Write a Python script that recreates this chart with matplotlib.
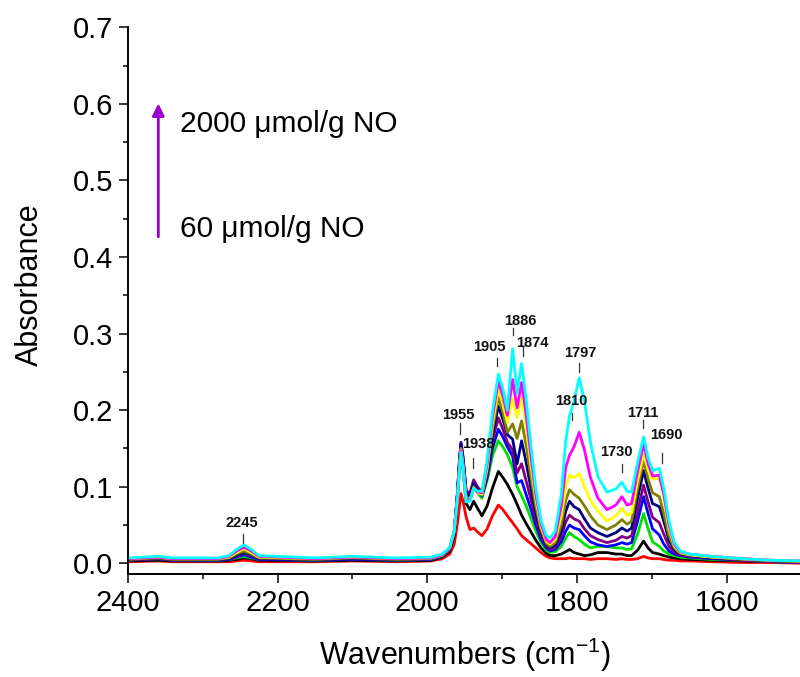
import matplotlib
matplotlib.use("Agg")
import matplotlib.pyplot as plt
from matplotlib.ticker import MultipleLocator

plt.rcParams['font.family'] = ['Liberation Sans', 'DejaVu Sans']
plt.rcParams['mathtext.fontset'] = 'custom'
plt.rcParams['mathtext.rm'] = 'Liberation Sans'
plt.rcParams['mathtext.it'] = 'Liberation Sans:italic'

# Wavenumber grid (cm-1), high to low
wavenumber = [
    2400, 2360, 2340, 2280, 2265, 2255, 2245, 2235, 2225, 2150, 2100, 2040,
    1995, 1980, 1970, 1964, 1960, 1957, 1955, 1952, 1948, 1943, 1938, 1933,
    1927, 1920, 1913, 1905, 1899, 1893, 1886, 1880, 1874, 1868, 1862,
    1855, 1848, 1841, 1836, 1829, 1821, 1815, 1810, 1804, 1797, 1790,
    1782, 1772, 1760, 1748, 1740, 1733, 1727, 1719, 1711, 1705, 1699,
    1690, 1684, 1677, 1670, 1662, 1650, 1620, 1580, 1540, 1500,
]

# Absorbance spectra, lowest NO dose (60 umol/g) to highest (2000 umol/g)
dose_60 = [
    0.002, 0.003, 0.002, 0.002, 0.002, 0.003, 0.004, 0.003, 0.002, 0.002, 0.003, 0.002,
    0.003, 0.006, 0.012, 0.025, 0.050, 0.075, 0.091, 0.080, 0.060, 0.044, 0.046, 0.041,
    0.036, 0.045, 0.062, 0.076, 0.070, 0.062, 0.053, 0.045, 0.036, 0.031, 0.026,
    0.020, 0.014, 0.009, 0.007, 0.006, 0.006, 0.006, 0.007, 0.006, 0.006, 0.006,
    0.005, 0.006, 0.006, 0.005, 0.006, 0.005, 0.005, 0.006, 0.009, 0.007, 0.006,
    0.006, 0.005, 0.004, 0.004, 0.003, 0.003, 0.002, 0.001, 0.001, 0.000,
]
dose_2 = [
    0.003, 0.004, 0.003, 0.003, 0.004, 0.005, 0.007, 0.006, 0.004, 0.003, 0.004, 0.003,
    0.004, 0.008, 0.016, 0.036, 0.080, 0.125, 0.150, 0.120, 0.078, 0.070, 0.081, 0.072,
    0.062, 0.075, 0.098, 0.120, 0.112, 0.103, 0.090, 0.077, 0.063, 0.052, 0.042,
    0.030, 0.020, 0.013, 0.010, 0.010, 0.012, 0.015, 0.018, 0.014, 0.012, 0.010,
    0.011, 0.014, 0.014, 0.012, 0.012, 0.010, 0.010, 0.017, 0.029, 0.020, 0.014,
    0.012, 0.010, 0.008, 0.007, 0.006, 0.005, 0.004, 0.003, 0.002, 0.001,
]
dose_3 = [
    0.004, 0.006, 0.004, 0.004, 0.005, 0.007, 0.009, 0.007, 0.005, 0.004, 0.005, 0.004,
    0.005, 0.009, 0.018, 0.040, 0.085, 0.130, 0.156, 0.135, 0.090, 0.088, 0.101, 0.092,
    0.085, 0.108, 0.140, 0.160, 0.152, 0.142, 0.125, 0.100, 0.088, 0.075, 0.060,
    0.042, 0.027, 0.017, 0.014, 0.015, 0.022, 0.033, 0.040, 0.035, 0.031, 0.025,
    0.020, 0.022, 0.022, 0.020, 0.020, 0.018, 0.019, 0.038, 0.065, 0.045, 0.028,
    0.022, 0.016, 0.012, 0.010, 0.008, 0.007, 0.005, 0.004, 0.002, 0.001,
]
dose_4 = [
    0.004, 0.006, 0.004, 0.004, 0.005, 0.008, 0.011, 0.008, 0.005, 0.004, 0.005, 0.004,
    0.005, 0.009, 0.018, 0.040, 0.088, 0.135, 0.158, 0.138, 0.092, 0.089, 0.104, 0.095,
    0.088, 0.112, 0.150, 0.175, 0.165, 0.152, 0.140, 0.105, 0.108, 0.090, 0.072,
    0.050, 0.031, 0.020, 0.016, 0.018, 0.028, 0.042, 0.050, 0.046, 0.044, 0.036,
    0.028, 0.024, 0.022, 0.024, 0.027, 0.025, 0.027, 0.055, 0.087, 0.065, 0.045,
    0.037, 0.025, 0.016, 0.012, 0.010, 0.008, 0.006, 0.004, 0.002, 0.001,
]
dose_5 = [
    0.004, 0.006, 0.004, 0.005, 0.006, 0.009, 0.013, 0.010, 0.006, 0.005, 0.006, 0.005,
    0.006, 0.010, 0.019, 0.042, 0.088, 0.135, 0.157, 0.135, 0.094, 0.092, 0.109, 0.100,
    0.093, 0.118, 0.160, 0.190, 0.175, 0.158, 0.148, 0.118, 0.130, 0.108, 0.085,
    0.058, 0.036, 0.022, 0.018, 0.021, 0.035, 0.054, 0.063, 0.058, 0.055, 0.045,
    0.036, 0.031, 0.027, 0.030, 0.035, 0.033, 0.036, 0.068, 0.102, 0.080, 0.060,
    0.053, 0.038, 0.022, 0.015, 0.011, 0.009, 0.007, 0.004, 0.002, 0.001,
]
dose_6 = [
    0.005, 0.007, 0.005, 0.005, 0.006, 0.010, 0.014, 0.011, 0.006, 0.005, 0.006, 0.005,
    0.006, 0.010, 0.019, 0.042, 0.088, 0.132, 0.155, 0.132, 0.090, 0.088, 0.104, 0.096,
    0.090, 0.120, 0.168, 0.205, 0.188, 0.168, 0.162, 0.130, 0.160, 0.132, 0.100,
    0.066, 0.040, 0.024, 0.020, 0.024, 0.042, 0.068, 0.081, 0.074, 0.070, 0.058,
    0.046, 0.040, 0.035, 0.040, 0.046, 0.042, 0.046, 0.085, 0.121, 0.098, 0.078,
    0.074, 0.055, 0.030, 0.018, 0.012, 0.010, 0.007, 0.005, 0.003, 0.002,
]
dose_7 = [
    0.005, 0.007, 0.005, 0.005, 0.007, 0.012, 0.016, 0.012, 0.007, 0.005, 0.007, 0.005,
    0.006, 0.010, 0.019, 0.042, 0.085, 0.128, 0.150, 0.128, 0.085, 0.084, 0.100, 0.093,
    0.090, 0.122, 0.175, 0.217, 0.197, 0.171, 0.182, 0.163, 0.186, 0.155, 0.115,
    0.074, 0.044, 0.026, 0.022, 0.027, 0.050, 0.082, 0.096, 0.090, 0.085, 0.075,
    0.062, 0.050, 0.044, 0.050, 0.057, 0.051, 0.055, 0.098, 0.134, 0.110, 0.092,
    0.087, 0.065, 0.036, 0.020, 0.013, 0.011, 0.008, 0.005, 0.003, 0.002,
]
dose_8 = [
    0.006, 0.008, 0.006, 0.006, 0.008, 0.014, 0.019, 0.014, 0.008, 0.006, 0.008, 0.006,
    0.007, 0.011, 0.020, 0.042, 0.082, 0.125, 0.148, 0.125, 0.083, 0.082, 0.098, 0.092,
    0.090, 0.125, 0.182, 0.228, 0.208, 0.184, 0.215, 0.190, 0.217, 0.180, 0.132,
    0.084, 0.048, 0.029, 0.025, 0.031, 0.062, 0.100, 0.115, 0.112, 0.117, 0.100,
    0.082, 0.068, 0.055, 0.062, 0.072, 0.062, 0.066, 0.108, 0.143, 0.122, 0.110,
    0.111, 0.085, 0.045, 0.023, 0.014, 0.011, 0.008, 0.006, 0.004, 0.003,
]
dose_9 = [
    0.006, 0.008, 0.006, 0.006, 0.009, 0.016, 0.021, 0.016, 0.009, 0.006, 0.008, 0.006,
    0.007, 0.011, 0.020, 0.042, 0.082, 0.124, 0.147, 0.124, 0.082, 0.082, 0.098, 0.093,
    0.092, 0.130, 0.190, 0.238, 0.218, 0.193, 0.240, 0.203, 0.236, 0.195, 0.143,
    0.090, 0.052, 0.031, 0.027, 0.035, 0.075, 0.125, 0.141, 0.152, 0.171, 0.148,
    0.112, 0.085, 0.070, 0.076, 0.087, 0.076, 0.078, 0.120, 0.156, 0.130, 0.114,
    0.115, 0.090, 0.050, 0.025, 0.015, 0.012, 0.009, 0.006, 0.004, 0.003,
]
dose_2000 = [
    0.007, 0.009, 0.007, 0.007, 0.010, 0.018, 0.024, 0.018, 0.010, 0.007, 0.009, 0.007,
    0.008, 0.012, 0.021, 0.042, 0.080, 0.122, 0.145, 0.122, 0.080, 0.081, 0.098, 0.094,
    0.094, 0.135, 0.198, 0.247, 0.228, 0.200, 0.280, 0.222, 0.261, 0.215, 0.158,
    0.098, 0.056, 0.036, 0.033, 0.042, 0.090, 0.160, 0.192, 0.212, 0.242, 0.212,
    0.158, 0.113, 0.093, 0.097, 0.106, 0.094, 0.093, 0.132, 0.165, 0.138, 0.121,
    0.124, 0.098, 0.055, 0.027, 0.016, 0.012, 0.009, 0.006, 0.004, 0.003,
]

spectra = [dose_60, dose_2, dose_3, dose_4, dose_5,
           dose_6, dose_7, dose_8, dose_9, dose_2000]
line_colors = ['#FF0000', '#000000', '#00E000', '#0000FF', '#800080',
               '#000080', '#808000', '#FFFF00', '#FF00FF', '#00FFFF']

# Band assignments: label text, marker x, marker y-range, text x, text baseline y
peak_text = ['2245', '1955', '1938', '1905', '1886', '1874',
             '1810', '1797', '1730', '1711', '1690']
peak_mark_x = [2246, 1956, 1939, 1907, 1886, 1872.5,
               1807, 1797, 1740, 1711.4, 1686]
peak_mark_y = [(0.027, 0.038), (0.169, 0.183), (0.124, 0.137), (0.258, 0.268),
               (0.298, 0.307), (0.271, 0.282), (0.187, 0.196), (0.250, 0.262),
               (0.119, 0.130), (0.177, 0.187), (0.131, 0.144)]
peak_text_xy = [(2248, 0.047), (1959, 0.189), (1932, 0.150), (1917.5, 0.277),
                (1876, 0.311), (1860, 0.282), (1808, 0.207), (1796, 0.269),
                (1747, 0.140), (1711.8, 0.191), (1680, 0.162)]

fig = plt.figure(figsize=(8, 6.77), dpi=100)
ax = fig.add_axes([0.1599, 0.1517, 0.8401, 0.808])

for vals, col in zip(spectra, line_colors):
    ax.plot(wavenumber, vals, color=col, lw=2.0, solid_joinstyle='round')

for txt, mx, (y0, y1), (tx, ty) in zip(peak_text, peak_mark_x, peak_mark_y, peak_text_xy):
    ax.plot([mx, mx], [y0, y1], color='#333333', lw=0.9)
    ax.text(tx, ty, txt, ha='center', va='baseline', fontsize=10.5,
            fontweight='bold', color='#111111')

# Dose arrow
arrow_col = '#9900CC'
ax.annotate('', xy=(2359.4, 0.6005), xytext=(2359.4, 0.4264),
            arrowprops=dict(arrowstyle='-|>', color=arrow_col, lw=2.0,
                            mutation_scale=18, shrinkA=0, shrinkB=0))
ax.text(2331, 0.5635, '2000 \u03bcmol/g NO', fontsize=21.5, ha='left', va='baseline')
ax.text(2331, 0.4264, '60 \u03bcmol/g NO', fontsize=21.5, ha='left', va='baseline')

ax.set_xlim(2400, 1502)
ax.set_ylim(-0.0144, 0.7)
ax.xaxis.set_major_locator(MultipleLocator(200))
ax.xaxis.set_minor_locator(MultipleLocator(100))
ax.yaxis.set_major_locator(MultipleLocator(0.1))
ax.yaxis.set_minor_locator(MultipleLocator(0.05))
ax.yaxis.set_major_formatter(plt.FuncFormatter(lambda v, p: f'{v:.1f}'))

for side in ('top', 'right'):
    ax.spines[side].set_visible(False)
for side in ('left', 'bottom'):
    ax.spines[side].set_linewidth(1.4)

ax.tick_params(which='major', direction='out', length=6.5, width=1.1,
               labelsize=21, pad=4)
ax.tick_params(which='minor', direction='out', length=3.6, width=1.1)

ax.set_xlabel(r'Wavenumbers (cm$^{\mathregular{-1}}$)', fontsize=22)
ax.set_ylabel('Absorbance', fontsize=22)
ax.xaxis.set_label_coords(0.502, -0.1475)
ax.xaxis.label.set_va('center')
ax.yaxis.set_label_coords(-0.1457, 0.529)
ax.yaxis.label.set_va('center')

fig.savefig('out.png', dpi=100)
